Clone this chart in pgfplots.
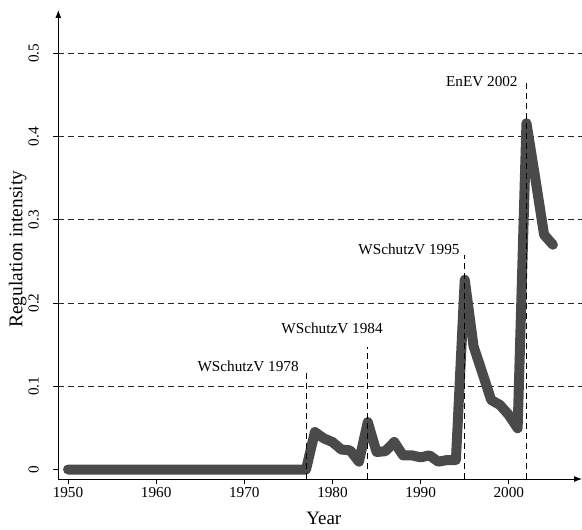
\documentclass[border=0pt]{standalone}
\usepackage{fontspec}
\setmainfont{Liberation Serif}
\usepackage{pgfplots}
\pgfplotsset{compat=1.18}
\usetikzlibrary{arrows.meta}
\definecolor{lineg}{RGB}{74,74,74}
\begin{document}
\begin{tikzpicture}
\begin{axis}[
 scale only axis, width=523.7bp, height=469bp,
 xmin=1948.9, xmax=2008.3, ymin=-0.0114, ymax=0.552,
 axis lines=left,
 axis line style={line width=0.9bp, -{Latex[length=8bp,width=6bp]}},
 xtick={1950,1960,1970,1980,1990,2000},
 xticklabels={1950,1960,1970,1980,1990,2000},
 ytick={0,0.1,0.2,0.3,0.4,0.5},
 yticklabels={0,0.1,0.2,0.3,0.4,0.5},
 tick align=outside, major tick length=5bp,
 tick style={black, line width=0.8bp},
 ticklabel style={font=\fontsize{15.3}{18}\selectfont},
 yticklabel style={xshift=-11bp, rotate=90, anchor=south},
 xlabel={Year}, ylabel={Regulation intensity},
 every axis x label/.style={at={(axis description cs:0.507,0)}, anchor=base, yshift=-45bp, font=\fontsize{19}{22}\selectfont},
 every axis y label/.style={at={(axis description cs:0,0.49)}, xshift=-36bp, rotate=90, anchor=base, font=\fontsize{19.5}{22}\selectfont},
 clip=false,
]
\coordinate (bl) at (rel axis cs:0,0);
% horizontal dashed guide lines
\foreach \yy in {0.1,0.2,0.3,0.4,0.5}{
  \edef\tmp{\noexpand\draw[black!85, line width=0.8bp, dash pattern=on 6bp off 4bp] (axis cs:1948.9,\yy) -- (axis cs:2008.3,\yy);}\tmp
}
\addplot[lineg, line width=10bp, line cap=round, line join=round] coordinates {
(1950,0) (1951,0) (1952,0) (1953,0) (1954,0) (1955,0) (1956,0) (1957,0) (1958,0) (1959,0)
(1960,0) (1961,0) (1962,0) (1963,0) (1964,0) (1965,0) (1966,0) (1967,0) (1968,0) (1969,0)
(1970,0) (1971,0) (1972,0) (1973,0) (1974,0) (1975,0) (1976,0) (1977,0)
(1978,0.045) (1979,0.0375) (1980,0.033) (1981,0.024) (1982,0.023) (1983,0.0094)
(1984,0.057) (1985,0.021) (1986,0.022) (1987,0.033) (1988,0.017) (1989,0.017)
(1990,0.0146) (1991,0.017) (1992,0.0094) (1993,0.0114) (1994,0.0114)
(1995,0.228) (1996,0.148) (1997,0.116) (1998,0.0835) (1999,0.0775) (2000,0.0655) (2001,0.0495)
(2002,0.416) (2003,0.35) (2004,0.282) (2005,0.27)
};
% event markers
\draw[black, line width=0.8bp, dash pattern=on 6bp off 4bp] (axis cs:1977,-0.0114) -- (axis cs:1977,0.1196);
\draw[black, line width=0.8bp, dash pattern=on 6bp off 4bp] (axis cs:1984,-0.0114) -- (axis cs:1984,0.147);
\draw[black, line width=0.8bp, dash pattern=on 6bp off 4bp] (axis cs:1995,-0.0114) -- (axis cs:1995,0.258);
\draw[black, line width=0.8bp, dash pattern=on 6bp off 4bp] (axis cs:2002,-0.0114) -- (axis cs:2002,0.4645);
\node[anchor=base east, inner sep=0pt, font=\fontsize{15.3}{18}\selectfont] at (axis cs:1976.19,0.1178) {WSchutzV 1978};
\node[anchor=base east, inner sep=0pt, font=\fontsize{15.3}{18}\selectfont] at (axis cs:1985.71,0.163) {WSchutzV 1984};
\node[anchor=base east, inner sep=0pt, font=\fontsize{15.3}{18}\selectfont] at (axis cs:1994.44,0.258) {WSchutzV 1995};
\node[anchor=base east, inner sep=0pt, font=\fontsize{15.3}{18}\selectfont] at (axis cs:2001.02,0.46) {EnEV 2002};
\end{axis}
\pgfresetboundingbox
\path ([shift={(-58.3bp,-51bp)}]bl) rectangle ([shift={(523.7bp,479bp)}]bl);
\end{tikzpicture}
\end{document}
